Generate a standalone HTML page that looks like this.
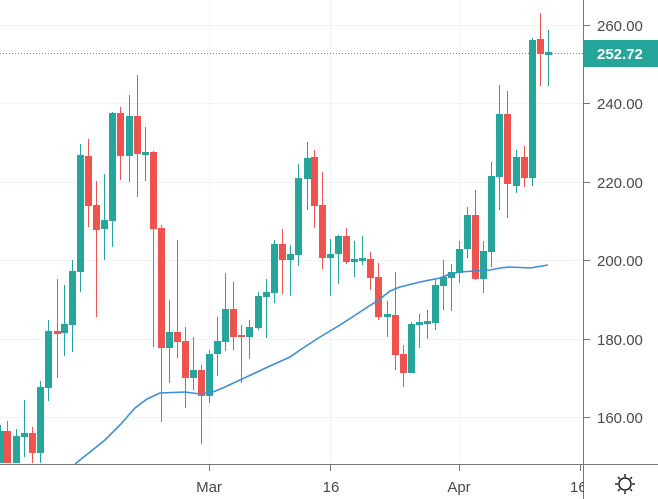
<!DOCTYPE html>
<html><head><meta charset="utf-8"><style>
html,body{margin:0;padding:0;background:#fff;}
svg{display:block;font-family:"Liberation Sans",sans-serif;}
</style></head><body>
<svg id="c" width="658" height="499" viewBox="0 0 658 499" xmlns="http://www.w3.org/2000/svg">
<rect width="658" height="499" fill="#fff"/>
<g stroke="#f0f3fa" stroke-width="1">
<line x1="0" y1="25.5" x2="583" y2="25.5"/>
<line x1="0" y1="103.5" x2="583" y2="103.5"/>
<line x1="0" y1="182.5" x2="583" y2="182.5"/>
<line x1="0" y1="260.5" x2="583" y2="260.5"/>
<line x1="0" y1="339.5" x2="583" y2="339.5"/>
<line x1="0" y1="417.5" x2="583" y2="417.5"/>
<line x1="209.5" y1="0" x2="209.5" y2="463"/>
<line x1="330.5" y1="0" x2="330.5" y2="463"/>
<line x1="459.5" y1="0" x2="459.5" y2="463"/>
</g>
<g id="cand"></g>
<polyline fill="none" stroke="#3a8fd8" stroke-width="1.6" points="75,464 90,452 105,440 120,425 135,408 147,399 160,393 185,392 200,394 213,392 225,387 240,380 255,373 270,366 290,357 300,350 320,337 340,325 360,312 380,299 390,291 400,287 420,282 440,278 450,274 460,272 475,271 490,270 500,268 510,267 530,268 548,265"/>
<line x1="0" y1="53.5" x2="583" y2="53.5" stroke="#26a69a" stroke-width="1" stroke-dasharray="1,2"/>
<line x1="583.5" y1="0" x2="583.5" y2="499" stroke="#777" stroke-width="1"/>
<line x1="0" y1="464.5" x2="658" y2="464.5" stroke="#777" stroke-width="1"/>
<g stroke="#777"><line x1="584" y1="25.5" x2="590" y2="25.5"/><line x1="584" y1="103.5" x2="590" y2="103.5"/><line x1="584" y1="182.5" x2="590" y2="182.5"/><line x1="584" y1="260.5" x2="590" y2="260.5"/><line x1="584" y1="339.5" x2="590" y2="339.5"/><line x1="584" y1="417.5" x2="590" y2="417.5"/>
<line x1="209.5" y1="465" x2="209.5" y2="471"/><line x1="330.5" y1="465" x2="330.5" y2="471"/><line x1="459.5" y1="465" x2="459.5" y2="471"/><line x1="580.5" y1="465" x2="580.5" y2="471"/></g>
<g fill="#4a4a4a" font-size="15">
<text x="597" y="31">260.00</text>
<text x="597" y="109">240.00</text>
<text x="597" y="188">220.00</text>
<text x="597" y="266">200.00</text>
<text x="597" y="345">180.00</text>
<text x="597" y="423">160.00</text>
<text x="209" y="492" text-anchor="middle">Mar</text>
<text x="331" y="492" text-anchor="middle">16</text>
<text x="459" y="492" text-anchor="middle">Apr</text>
<text x="570" y="492">16</text>
</g>
<rect x="584" y="40" width="74" height="27" fill="#26a69a"/>
<text x="597" y="59" fill="#fff" font-size="15" font-weight="bold">252.72</text>
<rect x="584" y="465" width="74" height="34" fill="#fff"/>
<g transform="translate(625,484)" stroke="#222" stroke-width="1.5" fill="none">
<circle r="6"/>
<line x1="0" y1="-10" x2="0" y2="-7"/><line x1="0" y1="7" x2="0" y2="10"/>
<line x1="-10" y1="0" x2="-7" y2="0"/><line x1="7" y1="0" x2="10" y2="0"/>
<line x1="-7" y1="-7" x2="-5" y2="-5"/><line x1="5" y1="5" x2="7" y2="7"/>
<line x1="-7" y1="7" x2="-5" y2="5"/><line x1="5" y1="-5" x2="7" y2="-7"/>
</g>
</svg>
<script>
var d=[
[0,'G',425,463,431,463],[7,'R',421,463,431,463],[16,'G',429,463,436,463],[24,'G',400,457,433,437],[32,'R',427,463,433,453],
[40,'G',381,463,387,453],[48,'G',320,401,331,388],[57,'R',279,378,331,334],[64,'G',285,356,324,333],[72,'G',260,352,271,325],
[80,'G',144,292,155,272],[88,'R',139,227,156,206],[96,'R',181,317,205,230],[104,'G',174,260,220,229],[112,'G',112,247,113,221],
[120,'R',107,180,113,156],[129,'G',95,182,116,156],[137,'R',75,197,116,154],[145,'G',127,181,152,155],[153,'R',151,347,152,229],
[161,'R',225,422,228,348],[169,'G',300,383,332,348],[177,'R',240,358,332,342],[185,'R',327,408,341,378],[193,'G',337,390,370,378],
[201,'R',365,444,370,396],[209,'G',350,403,354,396],[217,'G',317,376,341,354],[225,'G',273,351,309,342],[233,'R',282,350,309,337],
[241,'R',325,383,335,337],[249,'G',320,359,327,337],[258,'G',292,330,296,328],[266,'G',279,338,292,297],[274,'G',240,303,244,293],
[282,'R',229,294,244,260],[290,'G',245,296,254,260],[298,'G',164,266,178,255],[307,'G',142,210,158,179],[314,'R',150,228,157,206],
[322,'R',172,269,205,258],[330,'G',239,296,254,258],[338,'G',235,284,236,254],[346,'R',228,264,236,262],[354,'G',241,277,259,262],
[362,'G',236,265,258,261],[370,'R',252,290,259,278],[378,'R',263,320,277,317],[387,'G',301,337,314,317],[395,'R',272,370,315,355],
[403,'R',345,387,354,373],[411,'G',322,373,324,373],[419,'G',314,348,322,325],[427,'G',310,339,321,324],[435,'G',279,330,285,323],
[443,'G',260,310,277,286],[451,'G',264,311,272,278],[459,'G',241,283,249,273],[467,'G',207,258,215,249],[475,'R',190,280,215,279],
[483,'G',241,293,251,279],[491,'G',162,267,176,252],[499,'G',85,210,114,177],[507,'R',91,218,114,184],[516,'G',150,193,157,186],
[524,'R',146,187,157,178],[532,'G',38,186,40,178],[540,'R',13,86,39,54],[548,'G',30,86,52,55]];
var s='';
d.forEach(function(c){var col=c[1]=='G'?'#26a69a':'#ef5350';
s+='<line x1="'+(c[0]+.5)+'" y1="'+c[2]+'" x2="'+(c[0]+.5)+'" y2="'+c[3]+'" stroke="'+col+'" stroke-width="1"/>';
s+='<rect x="'+(c[0]-3)+'" y="'+c[4]+'" width="7" height="'+Math.max(2,c[5]-c[4])+'" fill="'+col+'"/>';});
document.getElementById('cand').innerHTML=s;
</script>
</body></html>
